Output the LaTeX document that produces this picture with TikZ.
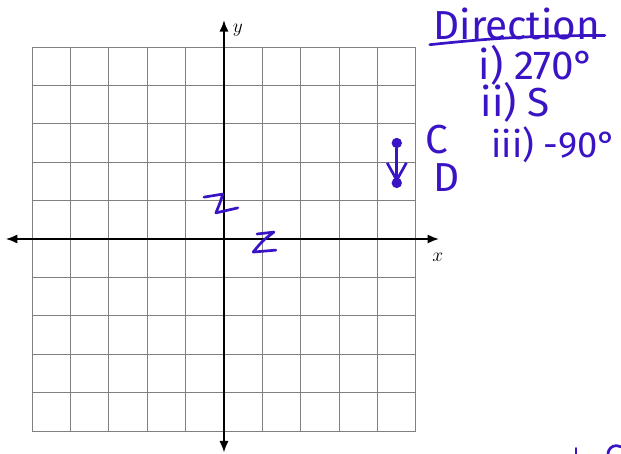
\documentclass[tikz,border=0pt]{standalone}
\usepackage{fontspec}
\setmainfont{Fira Sans}
\usetikzlibrary{arrows.meta}
\definecolor{inkBlue}{HTML}{3A14C4}
\definecolor{gridGray}{HTML}{808080}
\tikzset{
  ink/.style={inkBlue, line width=2pt, line cap=round, line join=round},
  hand/.style={inkBlue, inner sep=0pt, font=\fontsize{30}{32}\selectfont},
  dotpt/.style={circle, fill=inkBlue, minimum size=0.27cm, inner sep=0pt},
  axis/.style={line width=1.3pt, {Latex[length=3mm,width=2.4mm]}-{Latex[length=3mm,width=2.4mm]}}
}

\begin{document}
\begin{tikzpicture}
    \useasboundingbox (-5.833,-5.599) rectangle (10.339,6.224);
    % grid and axes
    \draw[gridGray, line width=0.7pt] (-5,-5) grid (5,5);
    \draw[axis] (-5.68,0) -- (5.6,0);
    \draw[axis] (0,-5.56) -- (0,5.7);
    \node (ylab) at (0.36,5.44) {\fontsize{14}{14}\selectfont$y$};
    \node (xlab) at (5.57,-0.47) {\fontsize{14}{14}\selectfont$x$};
    % handwriting
    \node[hand] (title) at (7.63,5.6) {Direction};
    \draw[ink] (5.36,5.06) to[bend left=3] (9.92,5.3);
    \node[hand] (ans1) at (8.15,4.53) {i) 270°};
    \node[hand] (ans2) at (7.58,3.57) {ii) S};
    \node[hand, font=\fontsize{27}{30}\selectfont] (ans3) at (8.6,2.45) {iii) -90°};
    \node[dotpt] (c) at (4.5,2.5) {};
    \node[dotpt] (d) at (4.5,1.46) {};
    \draw[ink, -{Straight Barb[length=4.5mm,width=5mm]}] (c) -- (d.center);
    \node[hand] (clab) at (5.55,2.58) {C};
    \node[hand] (dlab) at (5.8,1.6) {D};
    % the two Z marks
    \draw[ink] (-0.52,1.09) -- (-0.03,1.17) .. controls (-0.1,0.95) .. (-0.21,0.68) -- (0.36,0.81);
    \draw[ink] (0.86,0.13) -- (1.30,0.18) .. controls (1.0,-0.05) .. (0.76,-0.34) -- (1.35,-0.29);
    % cut-off marks at the bottom edge
    \draw[ink] (9.17,-5.45) -- (9.17,-5.6);
    \draw[ink] (10.0,-5.6) arc (180:60:0.22);
\end{tikzpicture}
\end{document}
